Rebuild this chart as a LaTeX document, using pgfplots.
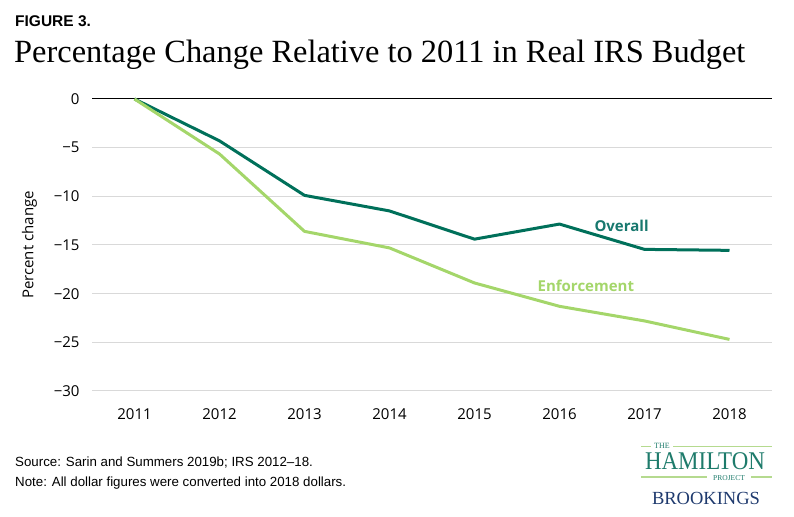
\documentclass[border=0pt]{standalone}
\usepackage{fontspec}
\usepackage{pgfplots}
\pgfplotsset{compat=1.18}
\setmainfont{Open Sans}
\newfontfamily\titlefont{Liberation Serif}
\newfontfamily\notefont{Liberation Sans}
\newfontfamily\logofont{Liberation Serif}

\definecolor{overall}{RGB}{0,112,90}
\definecolor{overalltxt}{RGB}{24,120,110}
\definecolor{enforce}{RGB}{164,214,106}
\definecolor{gridgray}{RGB}{217,217,217}
\definecolor{hamteal}{RGB}{30,123,107}
\definecolor{hamline}{RGB}{181,218,143}
\definecolor{brookblue}{RGB}{31,58,110}

\begin{document}
\begin{tikzpicture}
\useasboundingbox (0,0) rectangle (794bp,517bp);

% heading
\node[anchor=base west, inner sep=0pt] at (15bp,490bp)
  {\notefont\bfseries\fontsize{15.5bp}{17bp}\selectfont FIGURE 3.};
\node[anchor=base west, inner sep=0pt] at (14bp,454bp)
  {\titlefont\fontsize{32.4bp}{36bp}\selectfont Percentage Change Relative to 2011 in Real IRS Budget};

\begin{axis}[%
at={(92bp,126bp)},
anchor=south west,
width=680bp,
height=292bp,
scale only axis,
clip=false,
xmin=2010.5, xmax=2018.5,
ymin=-30, ymax=0,
axis line style={draw=none},
major tick length=0pt,
xtick={2011,2012,2013,2014,2015,2016,2017,2018},
xticklabels={2011,2012,2013,2014,2015,2016,2017,2018},
ytick={-30,-25,-20,-15,-10,-5},
yticklabels={−30,−25,−20,−15,−10,−5},
extra y ticks={0},
extra y tick labels={0},
extra y tick style={grid style={black, line width=1bp}},
ymajorgrids,
grid style={gridgray, line width=1bp},
ticklabel style={font=\fontsize{15bp}{18bp}\selectfont},
yticklabel style={xshift=-9bp},
xticklabel style={yshift=-14bp},
ylabel={Percent change},
ylabel style={font=\fontsize{15bp}{18bp}\selectfont, yshift=10bp},
]

\addplot[overall, line width=3bp, line join=round] coordinates {
(2011,0) (2012,-4.3) (2013,-9.9) (2014,-11.5) (2015,-14.4)
(2016,-12.85) (2017,-15.45) (2018,-15.55)
};

\addplot[enforce, line width=3bp, line join=round] coordinates {
(2011,0) (2012,-5.65) (2013,-13.6) (2014,-15.3) (2015,-18.9)
(2016,-21.3) (2017,-22.8) (2018,-24.7)
};

\node[anchor=base, text=overalltxt, font=\bfseries\fontsize{15bp}{18bp}\selectfont]
  at (axis cs:2016.73,-13.57) {Overall};
\node[anchor=base, text=enforce, font=\bfseries\fontsize{15bp}{18bp}\selectfont]
  at (axis cs:2016.31,-19.73) {Enforcement};
\end{axis}

% notes
\node[anchor=base west, inner sep=0pt] at (15bp,50bp)
  {\notefont\fontsize{13.3bp}{15bp}\selectfont Source: Sarin and Summers 2019b; IRS 2012–18.};
\node[anchor=base west, inner sep=0pt] at (15bp,31bp)
  {\notefont\fontsize{13.3bp}{15bp}\selectfont Note: All dollar figures were converted into 2018 dollars.};

% logo
\draw[hamline, line width=1.2bp] (641bp,70.5bp) -- (651bp,70.5bp);
\draw[hamline, line width=1.2bp] (673bp,70.5bp) -- (772bp,70.5bp);
\node[anchor=base, inner sep=0pt, text height=5.5bp, text depth=0pt, text=hamteal] at (662bp,68bp)
  {\logofont\fontsize{8bp}{9bp}\selectfont THE};
\node[anchor=base, inner sep=0pt, text height=17bp, text depth=0pt, text=hamteal] at (705bp,47bp)
  {\logofont\addfontfeature{FakeStretch=0.9}\fontsize{25.5bp}{28bp}\selectfont HAMILTON};
\draw[hamline, line width=1.2bp] (641bp,40bp) -- (707bp,40bp);
\draw[hamline, line width=1.2bp] (751bp,40bp) -- (772bp,40bp);
\node[anchor=base, inner sep=0pt, text height=5bp, text depth=0pt, text=hamteal] at (729bp,37bp)
  {\logofont\fontsize{7.5bp}{9bp}\selectfont PROJECT};
\node[anchor=base, inner sep=0pt, text=brookblue] at (706bp,13bp)
  {\logofont\fontsize{18.5bp}{20bp}\selectfont BROOKINGS};
\end{tikzpicture}
\end{document}
